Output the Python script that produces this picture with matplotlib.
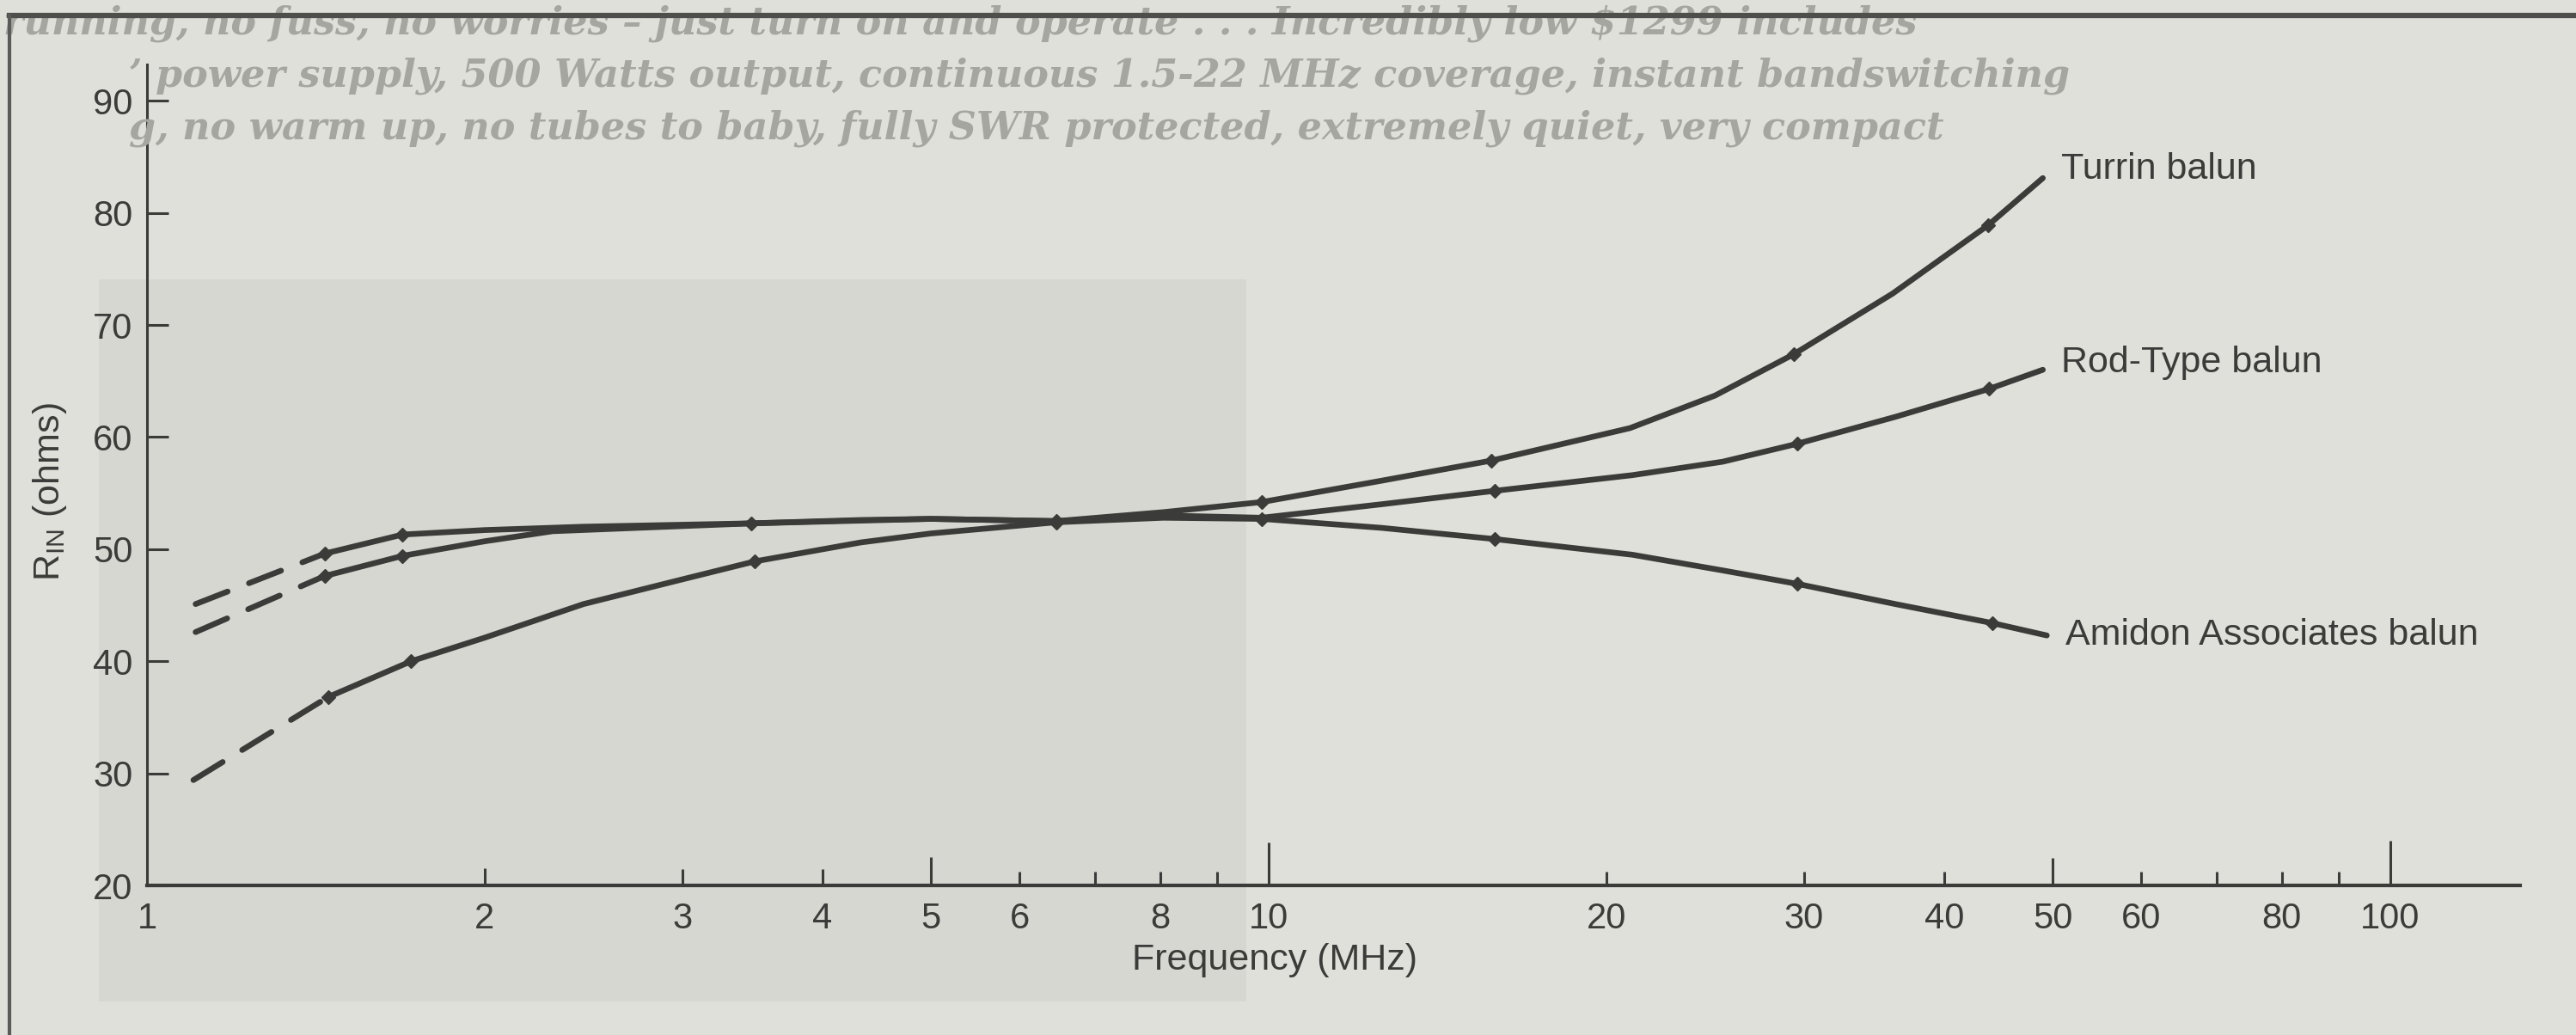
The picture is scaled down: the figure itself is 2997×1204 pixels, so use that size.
import numpy as np
import matplotlib.pyplot as plt
from matplotlib.patches import Rectangle

plt.rcParams['font.family'] = ['Liberation Sans', 'DejaVu Sans']
plt.rcParams['mathtext.fontset'] = 'custom'
plt.rcParams['mathtext.rm'] = 'Liberation Sans'

# values (frequency in MHz, R_IN in ohms)
turrin_f = [1.44, 1.69, 2.0, 2.45, 3.46, 4.33, 5.0, 6.47, 8.06, 9.86, 12.6, 15.8, 21.0, 25.0, 29.4, 36.0, 43.8, 49.0]
turrin_r = [49.6, 51.3, 51.7, 52.0, 52.3, 52.6, 52.7, 52.5, 53.3, 54.2, 56.1, 57.9, 60.8, 63.7, 67.4, 72.8, 78.9, 83.1]
turrin_mark = [1.44, 1.69, 3.46, 6.47, 9.86, 15.8, 29.4, 43.8]
turrin_mark_r = [49.6, 51.3, 52.3, 52.5, 54.2, 57.9, 67.4, 78.9]
turrin_dash_f = [1.105, 1.44]
turrin_dash_r = [45.1, 49.6]

rod_f = [1.44, 1.69, 2.0, 2.3, 3.46, 5.0, 6.47, 8.06, 9.86, 12.6, 15.9, 21.1, 25.4, 29.6, 36.2, 43.9, 49.0]
rod_r = [47.6, 49.4, 50.7, 51.6, 52.3, 52.7, 52.5, 53.0, 52.8, 54.0, 55.2, 56.6, 57.8, 59.4, 61.8, 64.3, 66.0]
rod_mark = [1.44, 1.69, 15.9, 29.6, 43.9]
rod_mark_r = [47.6, 49.4, 55.2, 59.4, 64.3]
rod_dash_f = [1.105, 1.44]
rod_dash_r = [42.6, 47.6]

amidon_f = [1.45, 1.72, 2.0, 2.45, 3.0, 3.48, 4.33, 5.0, 6.47, 8.06, 9.86, 12.6, 15.9, 21.1, 25.4, 29.6, 36.2, 44.2, 49.4]
amidon_r = [36.8, 40.0, 42.1, 45.1, 47.3, 48.9, 50.6, 51.4, 52.4, 52.8, 52.7, 51.9, 50.9, 49.5, 48.1, 46.9, 45.1, 43.4, 42.3]
amidon_mark = [1.45, 1.72, 3.48, 6.47, 9.86, 15.9, 29.6, 44.2]
amidon_mark_r = [36.8, 40.0, 48.9, 52.4, 52.7, 50.9, 46.9, 43.4]
amidon_dash_f = [1.10, 1.45]
amidon_dash_r = [29.4, 36.8]

curve_names = ['Turrin balun', 'Rod-Type balun', 'Amidon Associates balun']
label_f = [50.9, 50.9, 51.3]
label_r = [83.9, 66.6, 42.3]

x_tick_f = [2, 3, 4, 5, 6, 7, 8, 9, 10, 20, 30, 40, 50, 60, 70, 80, 90, 100]
x_label_f = [1, 2, 3, 4, 5, 6, 8, 10, 20, 30, 40, 50, 60, 80, 100]
y_ticks = [20, 30, 40, 50, 60, 70, 80, 90]

ghost_lines = [
    'running, no fuss, no worries \u2013 just turn on and operate . . . Incredibly low $1299 includes',
    '\u2019 power supply, 500 Watts output, continuous 1.5-22 MHz coverage, instant bandswitching',
    'g, no warm up, no tubes to baby, fully SWR protected, extremely quiet, very compact',
]

ink = '#3b3b39'
W, H = 2997, 1204
fig = plt.figure(figsize=(W / 100, H / 100), dpi=100)
fig.patch.set_facecolor('#e0e0da')

# darker photo block showing through the page
fig.add_artist(Rectangle((115 / W, 1 - 1165 / H), (1450 - 115) / W, (1165 - 325) / H,
                         transform=fig.transFigure, facecolor='#d6d7d1', edgecolor='none', zorder=0))

# faint print from the page behind the figure
ghost_x = [4, 150, 150]
ghost_y = [27, 88, 149]
for line, gx, gy in zip(ghost_lines, ghost_x, ghost_y):
    fig.text(gx / W, 1 - gy / H, line, fontsize=32,
             family='DejaVu Serif', weight='bold', style='italic',
             color='#a6a6a0', va='center', ha='left', zorder=0)

# frame
fig.add_artist(plt.Line2D([11 / W, 1], [1 - 18 / H, 1 - 18 / H], color='#4e4e4c', lw=4.5))
fig.add_artist(plt.Line2D([11 / W, 11 / W], [0, 1 - 18 / H], color='#5a5a58', lw=3))

ax = fig.add_axes([171 / W, 1 - 1030 / H, (2932 - 171) / W, (1030 - 75) / H])
ax.patch.set_alpha(0)
ax.set_xscale('log')
ax.set_xlim(1, 10 ** ((2932 - 171) / 1305))
ax.set_ylim(20, 20 + (1030 - 75) / 13.04)

for s in ['top', 'right']:
    ax.spines[s].set_visible(False)
ax.spines['left'].set_color(ink)
ax.spines['left'].set_linewidth(2.2)
ax.spines['bottom'].set_color(ink)
ax.spines['bottom'].set_linewidth(3)

ax.set_yticks(y_ticks)
ax.tick_params(axis='y', direction='in', length=18, width=2.2, color=ink,
               pad=12, labelsize=30, labelcolor=ink)
ax.set_xticks(x_label_f)
ax.set_xticklabels([str(v) for v in x_label_f])
ax.xaxis.set_minor_locator(plt.NullLocator())
ax.tick_params(axis='x', length=0, pad=14, labelsize=30, labelcolor=ink)

# ticks of varying length on the frequency axis, as in the drawing
tick_len = {10: 50, 100: 52, 5: 33, 50: 32, 2: 20, 3: 19, 4: 19}
lens = np.array([tick_len.get(f, 16) for f in x_tick_f]) / 13.04
ax.vlines(x_tick_f, 20, 20 + lens, color=ink, lw=2.2)

curves = [
    (turrin_f, turrin_r, turrin_mark, turrin_mark_r, turrin_dash_f, turrin_dash_r),
    (rod_f, rod_r, rod_mark, rod_mark_r, rod_dash_f, rod_dash_r),
    (amidon_f, amidon_r, amidon_mark, amidon_mark_r, amidon_dash_f, amidon_dash_r),
]
for (f, r, mf, mr, df, dr), name, lf, lr in zip(curves, curve_names, label_f, label_r):
    ax.plot(f, r, color=ink, lw=4.8, solid_capstyle='round', solid_joinstyle='round')
    ax.plot(df, dr, color=ink, lw=4.8, dashes=(6, 4), dash_capstyle='round')
    ax.plot(mf, mr, 'D', color=ink, ms=8)
    ax.text(lf, lr, name, fontsize=31, color=ink, ha='left', va='center')

fig.text(1483 / W, 1 - 1117 / H, 'Frequency (MHz)', fontsize=31, color=ink,
         ha='center', va='center')
fig.text(58 / W, 1 - 572 / H, r'R$_{\mathrm{IN}}$ (ohms)', rotation=90, fontsize=31,
         color=ink, ha='center', va='center')

fig.savefig('out.png', dpi=100, facecolor=fig.get_facecolor())
